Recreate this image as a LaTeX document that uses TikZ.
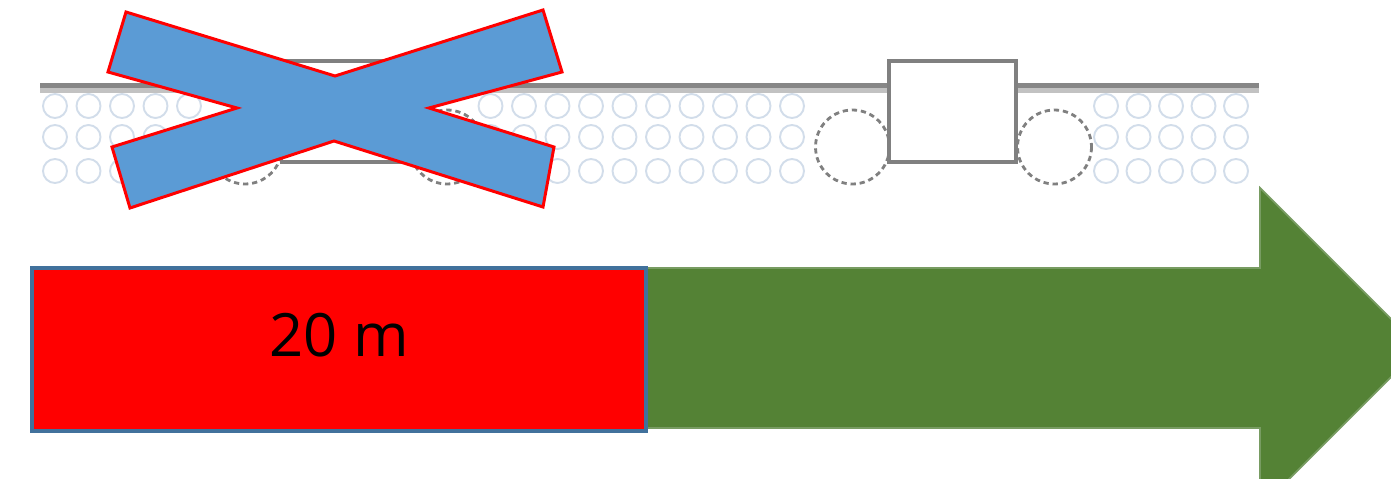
\documentclass[tikz,border=0pt]{standalone}
\usepackage{fontspec}
\setmainfont{Open Sans}
\usepackage{tikz}
\definecolor{roadgray}{RGB}{135,135,135}
\definecolor{roadshade}{RGB}{194,194,194}
\definecolor{gravelblue}{RGB}{210,221,234}
\definecolor{wheelgray}{RGB}{128,128,128}
\definecolor{crossblue}{RGB}{91,155,213}
\definecolor{crossred}{RGB}{255,0,0}
\definecolor{goodgreen}{RGB}{84,130,53}
\definecolor{goodedge}{RGB}{120,156,98}
\definecolor{zoneedge}{RGB}{65,113,156}
\tikzset{
  gravel/.style={draw=gravelblue, line width=1.1pt},
  carbox/.style={draw=wheelgray, fill=white, line width=2pt},
  wheel/.style={draw=wheelgray, fill=white, line width=1.6pt,
    dash pattern=on 3pt off 2.2pt},
  crossmark/.style={draw=crossred, fill=crossblue, line width=1.7pt,
    line join=miter},
  goodarrow/.style={draw=goodedge, fill=goodgreen, line width=1pt},
  zonebox/.style={rectangle, draw=zoneedge, fill=red, line width=2.3pt,
    minimum width=12.29cm, minimum height=3.26cm, inner sep=0pt}
}

\begin{document}
\begin{tikzpicture}[x=0.02cm, y=-0.02cm]
  \useasboundingbox (0,0) rectangle (1391,479);
  \clip (0,0) rectangle (1391,479);

  % Road surface
  \draw[roadshade, line width=2.8pt] (40,90.5) -- (1259,90.5);
  \draw[roadgray, line width=2.8pt] (40,85.5) -- (1259,85.5);

  % Gravel bed, left of the vehicles and right of them
  \foreach \gy in {106,137,171} {
    \foreach \i in {0,...,4,13,14,...,22}
      \draw[gravel] (55+33.5*\i,\gy) circle (12);
    \foreach \i in {0,...,4}
      \draw[gravel] (1106+32.5*\i,\gy) circle (12);
  }

  % Vehicles: body with a wheel on each side
  \foreach \cx in {345,952.5} {
    \draw[wheel] (\cx-100,147) circle (37);
    \draw[wheel] (\cx+102,147) circle (37);
    \draw[carbox] (\cx-63.5,61) rectangle (\cx+63.5,162);
  }

  % Cross over the first vehicle
  \draw[crossmark] (126,12) -- (335,76) -- (543,10) -- (562,72)
    -- (429,108) -- (554,147) -- (543,207) -- (334,141) -- (130,208)
    -- (112,147) -- (237,108) -- (108,72) -- cycle;

  % Long arrow
  \draw[goodarrow] (600,268) -- (1260,268) -- (1260,188) -- (1420,348)
    -- (1260,508) -- (1260,428) -- (600,428) -- cycle;

  % Blocked zone
  \node[zonebox] (zone) at (339.25,349.5) {};
  \node[font=\fontsize{34}{40}\selectfont, yshift=8pt] (zonelabel)
    at (zone.center) {20 m};
\end{tikzpicture}
\end{document}
